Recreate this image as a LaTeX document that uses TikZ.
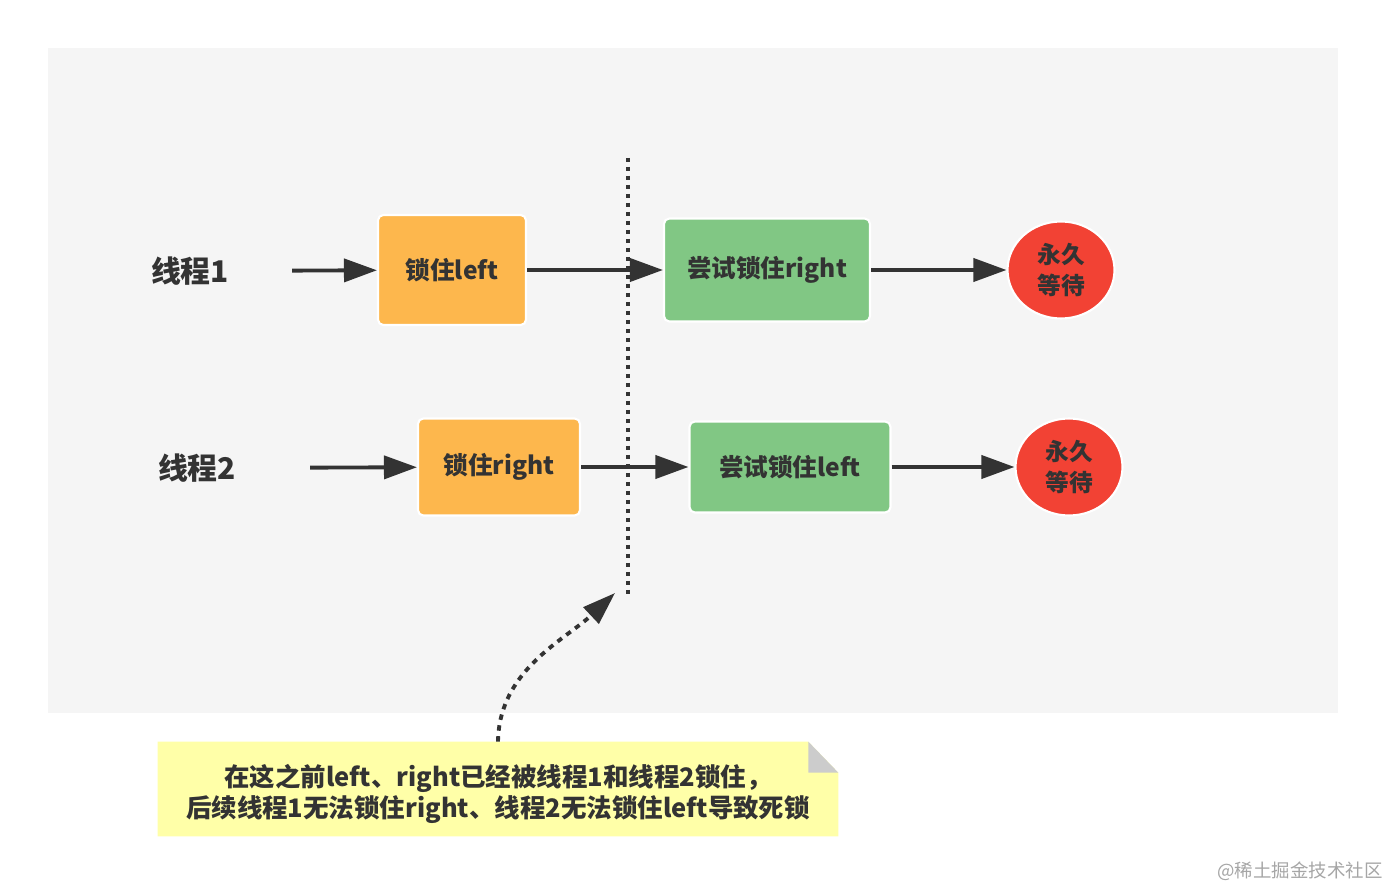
\documentclass[tikz,border=0pt]{standalone}
\usepackage{fontspec}
\setmainfont{Noto Sans CJK SC}
\usetikzlibrary{arrows.meta,positioning,shapes.geometric}
\usepackage{xcolor}
\definecolor{bggray}{RGB}{245,245,245}
\definecolor{lockorange}{RGB}{253,183,77}
\definecolor{trygreen}{RGB}{129,199,132}
\definecolor{waitred}{RGB}{242,66,52}
\definecolor{noteyellow}{RGB}{255,255,168}
\definecolor{foldgray}{RGB}{204,204,204}
\definecolor{darktext}{RGB}{51,51,51}

\begin{document}
\begin{tikzpicture}[
    x=0.02cm, y=-0.02cm,
    box/.style={rectangle, draw=white, line width=1.2pt, rounded corners=3pt, inner sep=0pt, text=darktext, font=\fontsize{14}{17}\selectfont\bfseries},
    lockbox/.style={box, fill=lockorange},
    trybox/.style={box, fill=trygreen},
    wait/.style={ellipse, draw=white, line width=1.2pt, fill=waitred, minimum width=2.14cm, minimum height=1.94cm, inner sep=0pt, align=center, text=darktext, font=\fontsize{13.5}{17.5}\selectfont\bfseries},
    thread/.style={text=darktext, font=\fontsize{17}{20}\selectfont\bfseries},
    flow/.style={draw=darktext, line width=2.2pt, -{Triangle[length=0.66cm,width=0.46cm]}},
    sepline/.style={draw=darktext, line width=2.4pt, dash pattern=on 0.09cm off 0.09cm},
    hint/.style={draw=darktext, line width=2.2pt, dash pattern=on 0.11cm off 0.11cm, -{Triangle[length=0.66cm,width=0.44cm]}},
    notebox/.style={minimum width=13.6cm, minimum height=1.88cm, inner sep=0pt},
    notetext/.style={align=center, text=darktext, font=\fontsize{14.5}{18}\selectfont\bfseries}
]
    \useasboundingbox (0,0) rectangle (1386,888);
    \fill[white] (0,0) rectangle (1386,888);
    \fill[bggray] (48,48) rectangle (1338,713);

    % Thread 1
    \node[thread] (t1) at (190,271) {线程1};
    \node[lockbox, minimum width=2.96cm, minimum height=2.2cm] (lock1) at (452,270) {锁住left};
    \node[trybox, minimum width=4.12cm, minimum height=2.06cm] (try1) at (767,270) {尝试锁住right};
    \node[wait] (wait1) at (1061,270) {永久\\等待};

    % Thread 2
    \node[thread] (t2) at (197,468) {线程2};
    \node[lockbox, minimum width=3.24cm, minimum height=1.94cm] (lock2) at (499,467) {锁住right};
    \node[trybox, minimum width=4.02cm, minimum height=1.82cm] (try2) at (790,467) {尝试锁住left};
    \node[wait] (wait2) at (1069,467) {永久\\等待};

    % Separator
    \coordinate (septop) at (628,158);
    \coordinate (sepbot) at (628,595);
    \draw[sepline] (septop) -- (sepbot);

    % Edges
    \draw[flow, shorten <=1.14cm] (t1) -- (lock1);
    \draw[flow] (lock1) -- (try1);
    \draw[flow] (try1) -- (wait1);
    \draw[flow, shorten <=1.36cm] (t2) -- (lock2);
    \draw[flow] (lock2) -- (try2);
    \draw[flow] (try2) -- (wait2);

    % Note with folded corner
    \node[notebox] (note) at (498,789) {};
    \fill[noteyellow] (note.north west) -- ([xshift=-0.6cm]note.north east) -- ([yshift=-0.62cm]note.north east) -- (note.south east) -- (note.south west) -- cycle;
    \fill[foldgray] ([xshift=-0.6cm]note.north east) -- ([yshift=-0.62cm]note.north east) -- ([xshift=-0.6cm,yshift=-0.62cm]note.north east) -- cycle;
    \node[notetext] (notetext) at (498,794) {在这之前left、right已经被线程1和线程2锁住，\\后续线程1无法锁住right、线程2无法锁住left导致死锁};
    \coordinate (tip) at (615,593);
    \draw[hint] (note.north) .. controls (499,670) and (565,640) .. (tip);

    % Watermark
    \node[text=black!35, font=\fontsize{10.5}{12}\selectfont] (mark) at (1300,871) {@稀土掘金技术社区};
\end{tikzpicture}
\end{document}
